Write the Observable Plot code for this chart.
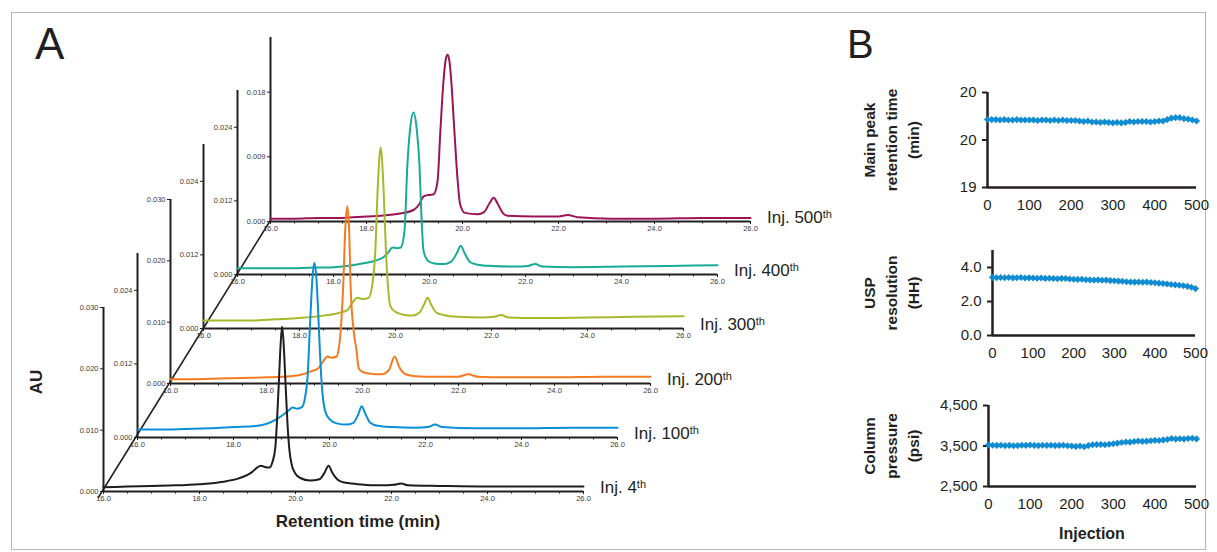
<!DOCTYPE html>
<html><head><meta charset="utf-8">
<script src="https://cdn.jsdelivr.net/npm/d3@7"></script>
<script src="https://cdn.jsdelivr.net/npm/@observablehq/plot@0.6"></script>
<style>
body{margin:0;background:#fff;font-family:"Liberation Sans",Arial,sans-serif;}
#root{position:relative;width:1217px;height:552px;overflow:hidden;background:#fff;}
.abs{position:absolute;}
.lbl{position:absolute;font-size:17px;color:#231f20;white-space:nowrap;line-height:20px;}
.lbl sup{font-size:11px;vertical-align:top;position:relative;top:-4px;}
.txt{position:absolute;white-space:nowrap;color:#231f20;}
</style></head><body><div id="root"></div>
<script>
// ---------- DATA: panel A chromatograms [retention time (min), AU] ----------
const inj4 = [[16.0,0.0007],[16.5,0.0008],[17.0,0.0009],[17.5,0.0010],[18.0,0.0012],[18.5,0.0016],[18.8,0.0021],[19.0,0.0027],[19.1,0.0032],[19.2,0.0039],[19.28,0.0042],[19.36,0.0040],[19.46,0.0039],[19.52,0.0048],[19.58,0.0072],[19.63,0.0140],[19.66,0.0190],[19.69,0.0240],[19.72,0.0269],[19.75,0.0245],[19.79,0.0180],[19.83,0.0115],[19.87,0.0070],[19.92,0.0044],[20.0,0.0029],[20.1,0.0022],[20.3,0.0018],[20.5,0.0020],[20.6,0.0030],[20.69,0.0042],[20.77,0.0030],[20.88,0.0019],[21.0,0.0015],[21.3,0.0012],[21.8,0.0010],[22.05,0.0011],[22.2,0.0013],[22.35,0.0010],[23.0,0.0009],[24.0,0.0008],[25.0,0.0008],[26.0,0.0008]];
const inj100 = [[16.0,0.0013],[16.5,0.0013],[17.0,0.0014],[17.5,0.0015],[18.0,0.0017],[18.5,0.0019],[18.9,0.0030],[19.05,0.0038],[19.15,0.0044],[19.23,0.0049],[19.33,0.0047],[19.43,0.0050],[19.49,0.0065],[19.54,0.0096],[19.60,0.0194],[19.645,0.0260],[19.685,0.0285],[19.725,0.0262],[19.77,0.0194],[19.80,0.0140],[19.83,0.0096],[19.87,0.0060],[19.91,0.0043],[20.0,0.0030],[20.15,0.0023],[20.35,0.0021],[20.5,0.0024],[20.6,0.0038],[20.67,0.0051],[20.75,0.0038],[20.85,0.0024],[21.0,0.0019],[21.3,0.0017],[21.8,0.0016],[22.05,0.0017],[22.2,0.0021],[22.35,0.0017],[23.0,0.0015],[24.0,0.0015],[25.0,0.0016],[26.0,0.0016]];
const inj200 = [[16.0,0.0007],[16.5,0.0007],[17.0,0.0008],[17.5,0.0009],[18.0,0.0010],[18.5,0.0012],[18.7,0.0014],[18.9,0.0019],[19.08,0.0025],[19.18,0.0036],[19.27,0.0044],[19.36,0.0042],[19.46,0.0044],[19.50,0.0054],[19.55,0.0090],[19.60,0.0163],[19.64,0.0250],[19.68,0.0289],[19.72,0.0255],[19.75,0.0163],[19.81,0.0090],[19.875,0.0054],[19.92,0.0025],[20.0,0.0019],[20.17,0.0016],[20.4,0.0015],[20.55,0.0022],[20.67,0.0044],[20.77,0.0026],[20.9,0.0015],[21.1,0.0012],[21.5,0.0011],[22.0,0.0011],[22.2,0.0015],[22.4,0.0011],[23.0,0.0010],[24.0,0.0010],[25.0,0.0011],[26.0,0.0011]];
const inj300 = [[16.0,0.0013],[16.5,0.0013],[17.0,0.0013],[17.5,0.0015],[18.0,0.0017],[18.5,0.0021],[18.8,0.0025],[19.0,0.0030],[19.1,0.0042],[19.21,0.0050],[19.32,0.0048],[19.44,0.0050],[19.52,0.0073],[19.58,0.0127],[19.63,0.0230],[19.69,0.0295],[19.75,0.0230],[19.80,0.0127],[19.84,0.0073],[19.89,0.0037],[20.0,0.0027],[20.2,0.0022],[20.35,0.0021],[20.5,0.0026],[20.6,0.0040],[20.67,0.0050],[20.75,0.0038],[20.85,0.0026],[21.0,0.0022],[21.3,0.0019],[21.8,0.0018],[22.05,0.0019],[22.2,0.0022],[22.35,0.0018],[23.0,0.0017],[24.0,0.0018],[25.0,0.0019],[26.0,0.0020]];
const inj400 = [[16.0,0.0010],[16.5,0.0010],[17.0,0.0010],[17.5,0.0011],[18.0,0.0012],[18.6,0.0018],[18.85,0.0022],[19.04,0.0028],[19.14,0.0036],[19.23,0.0044],[19.32,0.0043],[19.40,0.0044],[19.48,0.0072],[19.54,0.0180],[19.60,0.0240],[19.665,0.0264],[19.73,0.0240],[19.79,0.0180],[19.83,0.0100],[19.875,0.0039],[19.96,0.0023],[20.1,0.0018],[20.3,0.0017],[20.45,0.0021],[20.57,0.0035],[20.65,0.0047],[20.73,0.0035],[20.85,0.0020],[21.0,0.0016],[21.3,0.0014],[21.8,0.0013],[22.05,0.0014],[22.2,0.0017],[22.35,0.0013],[23.0,0.0012],[24.0,0.0013],[25.0,0.0014],[26.0,0.0015]];
const inj500 = [[16.0,0.0004],[16.5,0.0004],[17.0,0.0005],[17.5,0.0005],[18.0,0.0007],[18.3,0.0008],[18.7,0.0011],[18.98,0.0016],[19.1,0.0024],[19.19,0.0035],[19.3,0.0037],[19.4,0.0038],[19.48,0.0056],[19.54,0.0127],[19.6,0.0192],[19.65,0.0225],[19.69,0.0232],[19.73,0.0222],[19.77,0.0192],[19.83,0.0127],[19.9,0.0056],[19.95,0.0024],[20.05,0.0012],[20.31,0.0010],[20.45,0.0013],[20.56,0.0025],[20.65,0.0033],[20.73,0.0025],[20.85,0.0011],[20.94,0.0008],[21.48,0.0007],[22.0,0.0007],[22.19,0.0009],[22.4,0.0006],[23.1,0.0004],[24.0,0.0004],[25.0,0.0005],[26.0,0.0005]];

const injNames = ["4", "100", "200", "300", "400", "500"];
const seriesA = [inj4, inj100, inj200, inj300, inj400, inj500];
const auMax = [0.030, 0.030, 0.030, 0.030, 0.030, 0.0256];
const auTicks = [[0, 0.010, 0.020, 0.030], [0, 0.012, 0.024], [0, 0.010, 0.020, 0.030], [0, 0.012, 0.024], [0, 0.012, 0.024], [0, 0.009, 0.018]];
const timeDomain = [16, 26];
const timeTicks = [16, 18, 20, 22, 24, 26];
const timeMinorTicks = [16.5, 17, 17.5, 18.5, 19, 19.5, 20.5, 21, 21.5, 22.5, 23, 23.5, 24.5, 25, 25.5];

// ---------- DATA: panel B ----------
const injection = [0,10,20,30,40,50,60,70,80,90,100,110,120,130,140,150,160,170,180,190,200,210,220,230,240,250,260,270,280,290,300,310,320,330,340,350,360,370,380,390,400,410,420,430,440,450,460,470,480,490,500];
const retention = [19.715,19.715,19.715,19.71,19.715,19.71,19.71,19.715,19.71,19.71,19.71,19.71,19.705,19.71,19.71,19.705,19.71,19.705,19.71,19.705,19.705,19.705,19.70,19.695,19.70,19.69,19.69,19.685,19.69,19.685,19.68,19.685,19.68,19.685,19.695,19.69,19.695,19.695,19.695,19.69,19.695,19.70,19.70,19.715,19.73,19.735,19.735,19.725,19.72,19.71,19.70];
const resolution = [3.42,3.40,3.41,3.40,3.41,3.39,3.40,3.41,3.38,3.39,3.38,3.37,3.38,3.36,3.37,3.35,3.34,3.36,3.35,3.32,3.31,3.30,3.31,3.28,3.27,3.26,3.27,3.25,3.26,3.23,3.22,3.20,3.19,3.16,3.15,3.14,3.15,3.13,3.14,3.12,3.10,3.08,3.06,3.03,3.00,2.98,2.96,2.93,2.89,2.84,2.76];
const pressure = [3530,3520,3515,3520,3510,3515,3505,3510,3520,3515,3525,3515,3510,3520,3515,3520,3510,3515,3520,3505,3500,3490,3500,3480,3510,3530,3535,3540,3530,3545,3555,3570,3585,3600,3595,3610,3625,3615,3620,3630,3640,3635,3650,3660,3685,3670,3680,3670,3685,3690,3675];
const injTicks = [0, 100, 200, 300, 400, 500];
const retTicks = [19, 19.5, 20];
const resTicks = [0, 2, 4];
const presTicks = [2500, 3500, 4500];

// ---------- STYLE / LAYOUT ----------
const FONT = '"Liberation Sans", Arial, sans-serif';
const INK = "#231f20";
const colorsA = ["#1f1c1d", "#0a8fd6", "#f47b20", "#a6b92b", "#17ab96", "#9c1458"];
const blueB = "#108cd3";
const origins = [[103, 491], [137, 437], [170, 383], [203, 328], [237, 274], [270, 221]];
const LW = 480, LH = 184;

const root = document.getElementById("root");
function place(el, left, top) {
  const d = document.createElement("div");
  d.className = "abs";
  d.style.left = left + "px"; d.style.top = top + "px";
  d.appendChild(el); root.appendChild(d); return d;
}
function text(html, css) {
  const d = document.createElement("div");
  d.className = "txt"; d.innerHTML = html;
  Object.assign(d.style, css); root.appendChild(d); return d;
}

// frame
text("", {left: "11px", top: "12px", width: "1193px", height: "536px", border: "1px solid #b4b4b4"});

// diagonal connecting layer origins
const diag = d3.create("svg").attr("width", 1217).attr("height", 552);
diag.append("line")
  .attr("x1", origins[0][0] - 5).attr("y1", origins[0][1] + 7)
  .attr("x2", origins[5][0]).attr("y2", origins[5][1])
  .attr("stroke", INK).attr("stroke-width", 1.6);
place(diag.node(), 0, 0);

// layers: back to front
for (let i = seriesA.length - 1; i >= 0; --i) {
  const [ox, oy] = origins[i];
  const mL = 40, mR = 6, mT = 6, mB = 16;
  const p = Plot.plot({
    width: mL + LW + mR, height: mT + LH + mB,
    marginLeft: mL, marginRight: mR, marginTop: mT, marginBottom: mB,
    style: {background: "transparent", overflow: "visible", fontFamily: FONT, color: "#3a3a3a"},
    x: {domain: timeDomain},
    y: {domain: [0, auMax[i]]},
    marks: [
      Plot.axisX({ticks: timeMinorTicks, tickSize: 2.5, tickFormat: () => "", stroke: INK, label: null}),
      Plot.axisX({ticks: timeTicks, tickSize: 3, tickPadding: 1.5, tickFormat: d3.format(".1f"), fontSize: 7.5, fill: "#3a3a3a", stroke: INK, label: null}),
      Plot.axisY({ticks: auTicks[i], tickSize: 3, tickPadding: 2, tickFormat: d3.format(".3f"), fontSize: 7.5, fill: "#3a3a3a", stroke: INK, label: null}),
      Plot.ruleY([0], {x1: timeDomain[0], x2: timeDomain[1], stroke: INK, strokeWidth: 2}),
      Plot.ruleX([timeDomain[0]], {y1: 0, y2: auMax[i], stroke: INK, strokeWidth: 2}),
      Plot.line(seriesA[i], {x: d => d[0], y: d => d[1], stroke: colorsA[i], strokeWidth: 2, curve: "monotone-x"})
    ]
  });
  place(p, ox - mL, oy - LH - mT);
  const lab = document.createElement("div");
  lab.className = "lbl";
  lab.innerHTML = `Inj. ${injNames[i]}<sup>th</sup>`;
  lab.style.left = (ox + LW + 17) + "px";
  lab.style.top = (oy - 13) + "px";
  root.appendChild(lab);
}

// panel A titles
text("A", {left: "35px", top: "22px", fontSize: "44px", lineHeight: "1"});
text("AU", {left: "37px", top: "382px", fontSize: "17px", fontWeight: "bold", transform: "translate(-50%,-50%) rotate(-90deg)"});
text("Retention time (min)", {left: "358px", top: "522px", fontSize: "17px", fontWeight: "bold", transform: "translate(-50%,-50%)"});

// panel B
text("B", {left: "847px", top: "24px", fontSize: "40px", lineHeight: "1"});

const titleCenterX = 889;
function subplot({vals, domain, ticks, fmt, left, top, w, h, title}) {
  const mL = 140, mR = 15, mT = 10, mB = 35;
  const pts = injection.map((x, j) => [x, vals[j]]);
  const p = Plot.plot({
    width: mL + w + mR, height: mT + h + mB,
    marginLeft: mL, marginRight: mR, marginTop: mT, marginBottom: mB,
    style: {background: "transparent", overflow: "visible", fontFamily: FONT},
    x: {domain: [0, 500]},
    y: {domain},
    marks: [
      Plot.axisY({ticks, tickFormat: fmt, tickSize: 5, tickPadding: 6, fontSize: 15, fill: INK, stroke: INK, strokeWidth: 2, label: null}),
      Plot.axisX({ticks: injTicks, tickSize: 0, tickPadding: 12, fontSize: 15, fill: INK, label: null}),
      Plot.ruleX([0], {y1: domain[0], y2: domain[1], stroke: INK, strokeWidth: 2.5}),
      Plot.ruleY([domain[0]], {x1: 0, x2: 500, stroke: INK, strokeWidth: 2.5}),
      Plot.line(pts, {x: d => d[0], y: d => d[1], stroke: blueB, strokeWidth: 2}),
      Plot.dot(pts, {x: d => d[0], y: d => d[1], symbol: "diamond2", r: 3.2, fill: blueB}),
      Plot.text([title], {frameAnchor: "left", dx: titleCenterX - left, rotate: -90, text: d => d, fontSize: 15.5, fontWeight: "bold", lineHeight: 1.42, textAnchor: "middle", lineAnchor: "middle", fill: INK})
    ]
  });
  place(p, left - mL, top - mT);
}
subplot({vals: retention, domain: [19, 20], ticks: retTicks, fmt: d3.format(".0f"), left: 987, top: 92, w: 209, h: 95, title: "Main peak\nretention time\n(min)"});
subplot({vals: resolution, domain: [0, 5], ticks: resTicks, fmt: d3.format(".1f"), left: 992, top: 250, w: 203, h: 85, title: "USP\nresolution\n(HH)"});
subplot({vals: pressure, domain: [2500, 4500], ticks: presTicks, fmt: d3.format(","), left: 988, top: 405, w: 208, h: 81, title: "Column\npressure\n(psi)"});
text("Injection", {left: "1092px", top: "534px", fontSize: "16px", fontWeight: "bold", transform: "translate(-50%,-50%)"});
</script></body></html>
